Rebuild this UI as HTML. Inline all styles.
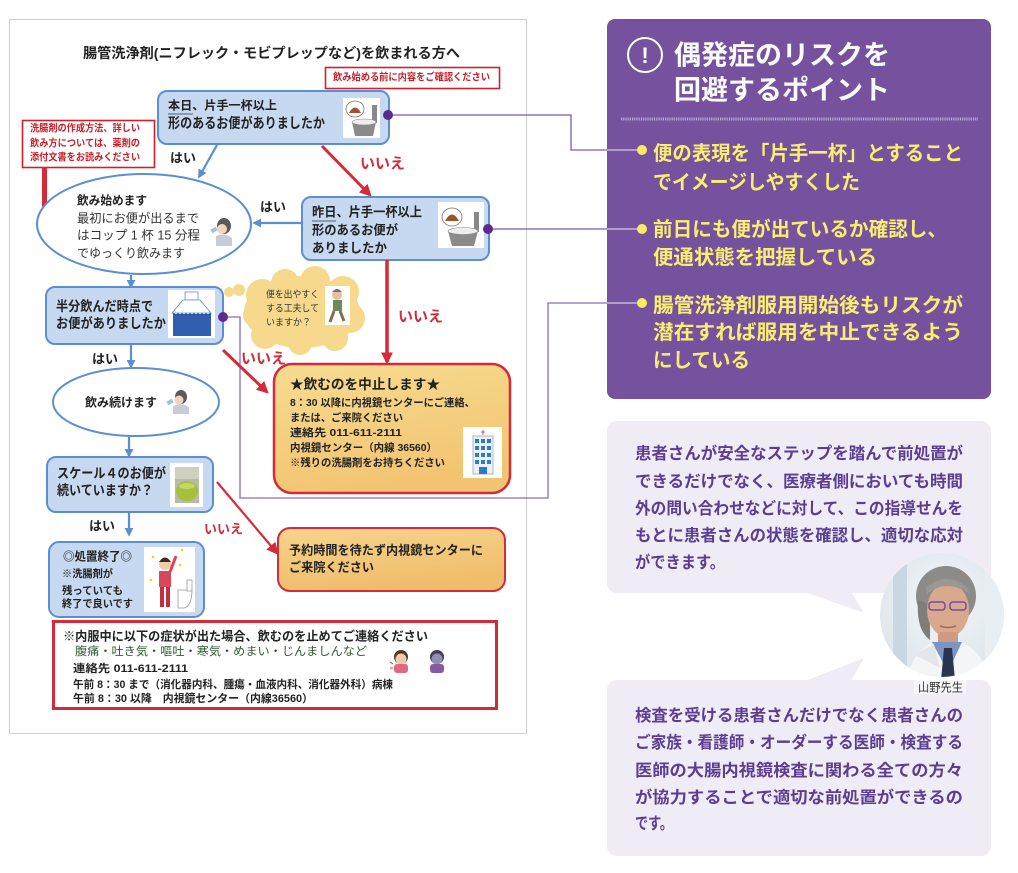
<!DOCTYPE html>
<html><head><meta charset="utf-8"><style>
html,body{margin:0;padding:0;background:#fff;}
svg{display:block;}
text{font-family:"Liberation Sans","Noto Sans CJK JP",sans-serif;}
</style></head><body>
<svg width="1018" height="873" viewBox="0 0 1018 873" xmlns="http://www.w3.org/2000/svg">
<defs>
<marker id="ab" viewBox="0 0 10 10" refX="8" refY="5" markerWidth="9" markerHeight="9" markerUnits="userSpaceOnUse" orient="auto"><path d="M0,0 L10,5 L0,10 z" fill="#5b8fd1"/></marker>
<marker id="ar" viewBox="0 0 10 10" refX="8" refY="5" markerWidth="12" markerHeight="12" markerUnits="userSpaceOnUse" orient="auto"><path d="M0,0 L10,5 L0,10 z" fill="#d42a3a"/></marker>
<linearGradient id="og" x1="0" y1="0" x2="0.3" y2="1"><stop offset="0" stop-color="#f7dc90"/><stop offset="1" stop-color="#f2c472"/></linearGradient>
<linearGradient id="og2" x1="0" y1="0" x2="0.3" y2="1"><stop offset="0" stop-color="#f6d58c"/><stop offset="1" stop-color="#f0bd6a"/></linearGradient>
<radialGradient id="pbg" cx="0.5" cy="0.4" r="0.6"><stop offset="0" stop-color="#f2f5f7"/><stop offset="1" stop-color="#dde6ec"/></radialGradient>
<clipPath id="pc"><circle cx="942" cy="615" r="62"/></clipPath>
</defs>

<!-- document frame -->
<rect x="9.5" y="19.5" width="517" height="714" fill="#fff" stroke="#cfcfcf" stroke-width="1"/>

<!-- connectors -->
<g fill="none" stroke-width="1.3">
<path d="M388 115 H571 V150 H608" stroke="#7a5aab"/>
<path d="M488 229 H608" stroke="#7a5aab"/>
<path d="M223 317 H240 V498 H548 V303 H608" stroke="#8a6cb8"/>
</g>

<!-- title -->
<text x="83" y="58" font-size="14" font-weight="bold" fill="#222" textLength="377" lengthAdjust="spacingAndGlyphs">腸管洗浄剤(ニフレック・モビプレップなど)を飲まれる方へ</text>

<!-- red note top -->
<rect x="325.5" y="67.5" width="174" height="21" fill="#fff" stroke="#d0202a" stroke-width="1.6"/>
<text x="333" y="80.6" font-size="10" font-weight="bold" fill="#c8202a" textLength="157" lengthAdjust="spacingAndGlyphs">飲み始める前に内容をご確認ください</text>

<!-- box1 -->
<rect x="158" y="91" width="231" height="53" rx="9" fill="#c6d9f0" stroke="#5b8fd1" stroke-width="2"/>
<text x="168" y="109.3" font-size="12" font-weight="bold" fill="#222" textLength="109" lengthAdjust="spacingAndGlyphs">本日、片手一杯以上</text>
<line x1="168" y1="114" x2="193" y2="114" stroke="#333" stroke-width="0.8"/>
<text x="168" y="128" font-size="14" font-weight="bold" fill="#222" textLength="157" lengthAdjust="spacingAndGlyphs">形のあるお便がありましたか</text>
<g>
<rect x="343" y="98" width="37" height="40" fill="#fff"/>
<ellipse cx="355" cy="109" rx="9" ry="8" fill="#fff" stroke="#777" stroke-width="0.8"/>
<path d="M349 113 Q355 102 361 113 Z" fill="#a0522d"/>
<rect x="372" y="105" width="5" height="18" fill="#888"/>
<path d="M352 122 H376 L373 136 H355 Z" fill="#8a8a8a"/>
<ellipse cx="364" cy="122" rx="12" ry="3" fill="#eee" stroke="#888" stroke-width="0.6"/>
</g>

<!-- red left note -->
<rect x="22.5" y="120.5" width="132" height="47" fill="#fff" stroke="#d0202a" stroke-width="1.6"/>
<text x="30" y="131.6" font-size="10" font-weight="bold" fill="#c8202a" textLength="110" lengthAdjust="spacingAndGlyphs">洗腸剤の作成方法、詳しい</text>
<text x="30" y="146.6" font-size="10" font-weight="bold" fill="#c8202a" textLength="110" lengthAdjust="spacingAndGlyphs">飲み方については、薬剤の</text>
<text x="30" y="160.6" font-size="10" font-weight="bold" fill="#c8202a" textLength="110" lengthAdjust="spacingAndGlyphs">添付文書をお読みください</text>
<path d="M44.5 167 V204 H56" fill="none" stroke="#d42a3a" stroke-width="5"/>
<path d="M55 197 L63 204 L55 211 Z" fill="#d42a3a"/>

<!-- arrows top -->
<line x1="217" y1="145" x2="199" y2="177" stroke="#5b8fd1" stroke-width="2.2" marker-end="url(#ab)"/>
<text x="170" y="162.7" font-size="13" font-weight="bold" fill="#222">はい</text>
<line x1="322" y1="146" x2="370" y2="195" stroke="#d42a3a" stroke-width="3" marker-end="url(#ar)"/>
<text x="360" y="168.4" font-size="15" font-weight="bold" fill="#d42a3a">いいえ</text>

<!-- ellipse 1 -->
<ellipse cx="144" cy="224" rx="107" ry="50" fill="#fff" stroke="#5b8fd1" stroke-width="2"/>
<text x="77" y="204.3" font-size="12" font-weight="bold" fill="#222" textLength="70" lengthAdjust="spacingAndGlyphs">飲み始めます</text>
<text x="77" y="222.5" font-size="12.5" fill="#333" textLength="122" lengthAdjust="spacingAndGlyphs">最初にお便が出るまで</text>
<text x="77" y="239.5" font-size="12.5" fill="#333" textLength="123" lengthAdjust="spacingAndGlyphs">はコップ 1 杯 15 分程</text>
<text x="77" y="257.5" font-size="12.5" fill="#333" textLength="108" lengthAdjust="spacingAndGlyphs">でゆっくり飲みます</text>
<g>
<ellipse cx="224" cy="226" rx="7" ry="8" fill="#5a5a5a"/>
<circle cx="222" cy="229" r="5" fill="#f3d3bb"/>
<path d="M216 236 Q224 232 232 238 L232 246 H216 Z" fill="#c8ccd8"/>
<rect x="211" y="228" width="6" height="4" fill="#9cc2e0" transform="rotate(-30 214 230)"/>
</g>

<!-- box2 -->
<rect x="302" y="197" width="187" height="63" rx="9" fill="#c6d9f0" stroke="#5b8fd1" stroke-width="2"/>
<text x="312" y="216.7" font-size="13" font-weight="bold" fill="#222" textLength="110" lengthAdjust="spacingAndGlyphs">昨日、片手一杯以上</text>
<line x1="312" y1="221" x2="336" y2="221" stroke="#333" stroke-width="0.8"/>
<text x="312" y="234.7" font-size="13" font-weight="bold" fill="#222" textLength="86" lengthAdjust="spacingAndGlyphs">形のあるお便が</text>
<text x="312" y="252.7" font-size="13" font-weight="bold" fill="#222" textLength="75" lengthAdjust="spacingAndGlyphs">ありましたか</text>
<g>
<rect x="438" y="202" width="46" height="46" fill="#fff"/>
<ellipse cx="452" cy="217" rx="10" ry="9" fill="#fff" stroke="#777" stroke-width="0.8"/>
<path d="M445 221 Q452 208 459 221 Z" fill="#a0522d"/>
<rect x="474" y="212" width="5" height="20" fill="#888"/>
<path d="M448 231 H478 L474 246 H452 Z" fill="#8a8a8a"/>
<ellipse cx="463" cy="231" rx="15" ry="3.5" fill="#eee" stroke="#888" stroke-width="0.6"/>
</g>
<line x1="302" y1="223" x2="254" y2="223" stroke="#5b8fd1" stroke-width="2.2" marker-end="url(#ab)"/>
<text x="260" y="211.7" font-size="13" font-weight="bold" fill="#222">はい</text>

<line x1="131" y1="275" x2="131" y2="287" stroke="#5b8fd1" stroke-width="2.2" marker-end="url(#ab)"/>

<!-- box3 -->
<rect x="46" y="287" width="177" height="57" rx="9" fill="#c6d9f0" stroke="#5b8fd1" stroke-width="2"/>
<text x="56" y="310.9" font-size="13.5" font-weight="bold" fill="#222" textLength="97" lengthAdjust="spacingAndGlyphs">半分飲んだ時点で</text>
<text x="56" y="327.9" font-size="13.5" font-weight="bold" fill="#222" textLength="110" lengthAdjust="spacingAndGlyphs">お便がありましたか</text>
<g>
<rect x="168" y="290" width="47" height="48" fill="#fff"/>
<rect x="185" y="292" width="13" height="8" fill="none" stroke="#6b8cc8" stroke-width="0.8"/>
<path d="M183 300 H200 L211 313 H172 Z" fill="#fff" stroke="#6b8cc8" stroke-width="0.8"/>
<rect x="173" y="314" width="38" height="22" fill="#2f5fae"/>
<line x1="173" y1="314" x2="211" y2="314" stroke="#1d3f80" stroke-width="1" stroke-dasharray="2 2"/>
</g>

<!-- cloud -->
<g fill="#f6d98c">
<circle cx="229" cy="292" r="5"/><circle cx="239" cy="290" r="6"/>
<ellipse cx="302" cy="312" rx="58" ry="36"/>
<circle cx="262" cy="295" r="16"/><circle cx="285" cy="283" r="14"/><circle cx="315" cy="281" r="15"/>
<circle cx="343" cy="292" r="16"/><circle cx="350" cy="318" r="15"/><circle cx="335" cy="338" r="13"/>
<circle cx="300" cy="343" r="12"/><circle cx="265" cy="335" r="14"/><circle cx="255" cy="315" r="12"/>
</g>
<text x="266" y="297.4" font-size="9.5" fill="#333" textLength="53" lengthAdjust="spacingAndGlyphs">便を出やすく</text>
<text x="266" y="311.4" font-size="9.5" fill="#333" textLength="53" lengthAdjust="spacingAndGlyphs">する工夫して</text>
<text x="266" y="325.4" font-size="9.5" fill="#333" textLength="45" lengthAdjust="spacingAndGlyphs">いますか？</text>
<g>
<rect x="325" y="286" width="25" height="39" fill="#fff"/>
<circle cx="337" cy="295" r="5" fill="#e8c0a0"/>
<path d="M332 292 Q337 286 342 292" fill="#777"/>
<rect x="333" y="300" width="9" height="11" fill="#6d8a55"/>
<path d="M334 311 L330 322 M340 311 L344 321" stroke="#8a6a4a" stroke-width="3"/>
</g>

<text x="92" y="363.7" font-size="13" font-weight="bold" fill="#222">はい</text>
<line x1="131" y1="344" x2="131" y2="367" stroke="#5b8fd1" stroke-width="2.2" marker-end="url(#ab)"/>
<text x="241" y="363.4" font-size="15" font-weight="bold" fill="#d42a3a">いいえ</text>
<line x1="223" y1="350" x2="267" y2="392" stroke="#d42a3a" stroke-width="3" marker-end="url(#ar)"/>
<line x1="387" y1="260" x2="387" y2="362" stroke="#d42a3a" stroke-width="3.5" marker-end="url(#ar)"/>
<text x="398" y="321.4" font-size="15" font-weight="bold" fill="#d42a3a">いいえ</text>

<!-- box4 -->
<rect x="274" y="364" width="236" height="129" rx="18" fill="url(#og)" stroke="#d42a3a" stroke-width="2.5"/>
<text x="290" y="388.9" font-size="13.5" font-weight="bold" fill="#222" textLength="150" lengthAdjust="spacingAndGlyphs">★飲むのを中止します★</text>
<text x="290" y="405.8" font-size="10.5" font-weight="bold" fill="#222" textLength="185" lengthAdjust="spacingAndGlyphs">8：30 以降に内視鏡センターにご連絡、</text>
<text x="290" y="420.8" font-size="10.5" font-weight="bold" fill="#222" textLength="113" lengthAdjust="spacingAndGlyphs">または、ご来院ください</text>
<text x="290" y="435.8" font-size="10.5" font-weight="bold" fill="#222" textLength="112" lengthAdjust="spacingAndGlyphs">連絡先 011-611-2111</text>
<text x="290" y="450.8" font-size="10.5" font-weight="bold" fill="#222" textLength="147" lengthAdjust="spacingAndGlyphs">内視鏡センター（内線 36560）</text>
<text x="290" y="465.8" font-size="10.5" font-weight="bold" fill="#222" textLength="155" lengthAdjust="spacingAndGlyphs">※残りの洗腸剤をお持ちください</text>
<g>
<rect x="463" y="427" width="39" height="51" fill="#fff"/>
<rect x="473" y="436" width="20" height="38" fill="#eef2f8" stroke="#9aa8bb" stroke-width="0.8"/>
<path d="M483 430 V435 M481 432 H485" stroke="#a04060" stroke-width="0.8"/>
<g fill="#2b7cc8">
<rect x="475" y="439" width="4" height="4"/><rect x="481" y="439" width="4" height="4"/><rect x="487" y="439" width="4" height="4"/>
<rect x="475" y="446" width="4" height="4"/><rect x="481" y="446" width="4" height="4"/><rect x="487" y="446" width="4" height="4"/>
<rect x="475" y="453" width="4" height="4"/><rect x="481" y="453" width="4" height="4"/><rect x="487" y="453" width="4" height="4"/>
<rect x="475" y="460" width="4" height="4"/><rect x="481" y="460" width="4" height="4"/><rect x="487" y="460" width="4" height="4"/>
<rect x="479" y="467" width="8" height="7"/>
</g>
</g>

<!-- ellipse 2 -->
<ellipse cx="136" cy="402" rx="83" ry="34" fill="#fff" stroke="#5b8fd1" stroke-width="2"/>
<text x="85" y="406.3" font-size="12" font-weight="bold" fill="#222" textLength="72" lengthAdjust="spacingAndGlyphs">飲み続けます</text>
<g>
<ellipse cx="181" cy="397" rx="6" ry="7" fill="#5a5a5a"/>
<circle cx="179" cy="400" r="4.5" fill="#f3d3bb"/>
<path d="M173 406 Q181 402 189 407 L189 414 H173 Z" fill="#c8ccd8"/>
<rect x="167" y="400" width="6" height="4" fill="#9cc2e0" transform="rotate(-30 170 402)"/>
</g>

<line x1="129" y1="437" x2="129" y2="456" stroke="#5b8fd1" stroke-width="2.2" marker-end="url(#ab)"/>

<!-- box5 -->
<rect x="47" y="457" width="166" height="55" rx="9" fill="#c6d9f0" stroke="#5b8fd1" stroke-width="2"/>
<text x="57" y="477.9" font-size="13.5" font-weight="bold" fill="#222" textLength="109" lengthAdjust="spacingAndGlyphs">スケール４のお便が</text>
<text x="57" y="494.9" font-size="13.5" font-weight="bold" fill="#222" textLength="96" lengthAdjust="spacingAndGlyphs">続いていますか？</text>
<g>
<rect x="170" y="463" width="33" height="44" fill="#fff"/>
<rect x="175" y="467" width="24" height="36" fill="#b9baa8"/>
<rect x="175" y="467" width="24" height="12" fill="#d0d0c0"/>
<ellipse cx="187" cy="491" rx="11" ry="10" fill="#a7bf3c"/>
<ellipse cx="187" cy="486" rx="8" ry="3" fill="#c3d66a"/>
</g>

<text x="89" y="530.7" font-size="13" font-weight="bold" fill="#222">はい</text>
<line x1="129" y1="512" x2="129" y2="535" stroke="#5b8fd1" stroke-width="2.2" marker-end="url(#ab)"/>
<text x="204" y="533.7" font-size="13" font-weight="bold" fill="#d42a3a">いいえ</text>
<line x1="217" y1="482" x2="277" y2="553" stroke="#d42a3a" stroke-width="2.2" marker-end="url(#ar)"/>

<!-- box6 -->
<rect x="278" y="528" width="227" height="63" rx="12" fill="url(#og2)" stroke="#d42a3a" stroke-width="2"/>
<text x="289" y="554.5" font-size="12.5" font-weight="bold" fill="#222" textLength="194" lengthAdjust="spacingAndGlyphs">予約時間を待たず内視鏡センターに</text>
<text x="289" y="571.5" font-size="12.5" font-weight="bold" fill="#222" textLength="85" lengthAdjust="spacingAndGlyphs">ご来院ください</text>

<!-- box7 -->
<rect x="49" y="542" width="155" height="75" rx="10" fill="#c6d9f0" stroke="#5b8fd1" stroke-width="2"/>
<text x="63" y="560.3" font-size="12" font-weight="bold" fill="#222" textLength="69" lengthAdjust="spacingAndGlyphs">◎処置終了◎</text>
<text x="62" y="576.8" font-size="10.5" font-weight="bold" fill="#222" textLength="51" lengthAdjust="spacingAndGlyphs">※洗腸剤が</text>
<text x="62" y="593.8" font-size="10.5" font-weight="bold" fill="#222" textLength="61" lengthAdjust="spacingAndGlyphs">残っていても</text>
<text x="62" y="606.8" font-size="10.5" font-weight="bold" fill="#222" textLength="71" lengthAdjust="spacingAndGlyphs">終了で良いです</text>
<g>
<rect x="144" y="547" width="51" height="65" fill="#fff"/>
<circle cx="165" cy="564" r="6" fill="#f1cba8"/>
<path d="M159 562 Q165 553 171 562" fill="#3a2a22"/>
<rect x="159" y="571" width="12" height="16" fill="#d9485a"/>
<rect x="160" y="587" width="4" height="20" fill="#c23040"/><rect x="166" y="587" width="4" height="20" fill="#c23040"/>
<path d="M170 572 L176 556" stroke="#d9485a" stroke-width="3"/>
<path d="M178 590 H192 Q192 606 184 608 H178 Z" fill="#fff" stroke="#999" stroke-width="0.8"/>
<rect x="187" y="580" width="5" height="11" fill="#fff" stroke="#999" stroke-width="0.8"/>
<g fill="#f0d020"><circle cx="153" cy="557" r="1.3"/><circle cx="180" cy="565" r="1.3"/><circle cx="151" cy="580" r="1.3"/><circle cx="182" cy="550" r="1.3"/></g>
</g>

<!-- box8 -->
<rect x="53.5" y="621.5" width="443" height="87" fill="#fff" stroke="#d42a3a" stroke-width="3"/>
<text x="63" y="640.5" font-size="12.5" font-weight="bold" fill="#222" textLength="365" lengthAdjust="spacingAndGlyphs">※内服中に以下の症状が出た場合、飲むのを止めてご連絡ください</text>
<text x="75" y="655.1" font-size="11.5" fill="#2e5a34" textLength="292" lengthAdjust="spacingAndGlyphs">腹痛・吐き気・嘔吐・寒気・めまい・じんましんなど</text>
<text x="73" y="672" font-size="11" font-weight="bold" fill="#222" textLength="115" lengthAdjust="spacingAndGlyphs">連絡先 011-611-2111</text>
<text x="73" y="688" font-size="11" font-weight="bold" fill="#222" textLength="320" lengthAdjust="spacingAndGlyphs">午前 8：30 まで（消化器内科、腫瘍・血液内科、消化器外科）病棟</text>
<text x="73" y="702" font-size="11" font-weight="bold" fill="#222" textLength="240" lengthAdjust="spacingAndGlyphs">午前 8：30 以降　内視鏡センター（内線36560）</text>
<g>
<circle cx="401" cy="657" r="7" fill="#4a3a30"/>
<circle cx="401" cy="659" r="5.5" fill="#f1cba8"/>
<rect x="394" y="664" width="14" height="9" rx="3" fill="#e06a80"/>
<path d="M390 662 L393 664 M390 668 H393" stroke="#e03040" stroke-width="1"/>
<circle cx="437" cy="657" r="7" fill="#4a3a50"/>
<circle cx="437" cy="659" r="5.5" fill="#8a90b8"/>
<rect x="430" y="664" width="14" height="9" rx="3" fill="#8a5aa0"/>
</g>

<!-- ===== right side ===== -->
<rect x="607" y="19" width="384" height="380" rx="8" fill="#76529e"/>
<circle cx="645" cy="55" r="17" fill="none" stroke="#fff" stroke-width="2"/>
<text x="645" y="63" font-size="22" font-weight="bold" fill="#fff" text-anchor="middle">!</text>
<text x="674" y="64.7" font-size="27" font-weight="bold" fill="#fbfbfb" textLength="216" lengthAdjust="spacingAndGlyphs">偶発症のリスクを</text>
<text x="674" y="99.7" font-size="27" font-weight="bold" fill="#fbfbfb" textLength="216" lengthAdjust="spacingAndGlyphs">回避するポイント</text>
<line x1="621" y1="119" x2="978" y2="119" stroke="#b9a6d3" stroke-width="3" stroke-dasharray="1.2 1"/>

<g fill="none" stroke="#d6c8e6" stroke-width="1.3">
<path d="M607 150 H640"/><path d="M607 229 H640"/><path d="M607 303 H640"/>
</g>
<g fill="#f7ec62">
<circle cx="642" cy="150" r="5"/><circle cx="642" cy="229" r="5"/><circle cx="642" cy="303" r="5"/>
</g>
<g font-size="20" font-weight="bold" fill="#f8ee72">
<text x="653" y="160.2" textLength="310" lengthAdjust="spacingAndGlyphs">便の表現を「片手一杯」とすること</text>
<text x="653" y="189.2" textLength="207" lengthAdjust="spacingAndGlyphs">でイメージしやすくした</text>
<text x="653" y="236.2" textLength="294" lengthAdjust="spacingAndGlyphs">前日にも便が出ているか確認し、</text>
<text x="653" y="264.2" textLength="224" lengthAdjust="spacingAndGlyphs">便通状態を把握している</text>
<text x="653" y="312.2" textLength="310" lengthAdjust="spacingAndGlyphs">腸管洗浄剤服用開始後もリスクが</text>
<text x="653" y="339.2" textLength="310" lengthAdjust="spacingAndGlyphs">潜在すれば服用を中止できるよう</text>
<text x="653" y="367.2" textLength="97" lengthAdjust="spacingAndGlyphs">にしている</text>
</g>

<!-- bubble 1 -->
<rect x="607" y="421" width="384" height="172" rx="10" fill="#efecf5"/>
<path d="M805 592 L851 592 L864 613 Z" fill="#efecf5"/>
<g font-size="16.5" font-weight="bold" fill="#5b3e92">
<text x="635" y="458.9" textLength="328" lengthAdjust="spacingAndGlyphs">患者さんが安全なステップを踏んで前処置が</text>
<text x="635" y="486.9" textLength="328" lengthAdjust="spacingAndGlyphs">できるだけでなく、医療者側においても時間</text>
<text x="635" y="513.9" textLength="328" lengthAdjust="spacingAndGlyphs">外の問い合わせなどに対して、この指導せんを</text>
<text x="635" y="540.9" textLength="328" lengthAdjust="spacingAndGlyphs">もとに患者さんの状態を確認し、適切な応対</text>
<text x="635" y="567.9" textLength="90" lengthAdjust="spacingAndGlyphs">ができます。</text>
</g>

<!-- bubble 2 -->
<rect x="607" y="680" width="384" height="176" rx="10" fill="#efecf5"/>
<path d="M805 681 L851 681 L864 658 Z" fill="#efecf5"/>
<g font-size="16.5" font-weight="bold" fill="#5b3e92">
<text x="635" y="720.9" textLength="328" lengthAdjust="spacingAndGlyphs">検査を受ける患者さんだけでなく患者さんの</text>
<text x="635" y="747.9" textLength="328" lengthAdjust="spacingAndGlyphs">ご家族・看護師・オーダーする医師・検査する</text>
<text x="635" y="775.9" textLength="328" lengthAdjust="spacingAndGlyphs">医師の大腸内視鏡検査に関わる全ての方々</text>
<text x="635" y="802.9" textLength="328" lengthAdjust="spacingAndGlyphs">が協力することで適切な前処置ができるの</text>
<text x="635" y="828.9" textLength="38" lengthAdjust="spacingAndGlyphs">です。</text>
</g>

<!-- photo -->
<g clip-path="url(#pc)">
<rect x="878" y="551" width="130" height="130" fill="url(#pbg)"/>
<rect x="893" y="551" width="14" height="130" fill="#c9d7e3"/>
<rect x="985" y="551" width="20" height="130" fill="#e9eef2"/>
<path d="M905 690 Q910 650 935 642 L960 642 Q985 650 992 690 Z" fill="#f4f5f7"/>
<path d="M932 642 L948 672 L962 642 Z" fill="#7d95c2"/>
<path d="M944 648 L952 648 L955 680 L941 680 Z" fill="#2b3450"/>
<path d="M915 655 Q925 648 934 644 L940 668 Z" fill="#e4e6ea"/>
<ellipse cx="946" cy="596" rx="30" ry="30" fill="#8d8b88"/>
<path d="M918 600 Q916 630 930 640 L930 605 Z" fill="#7f7d7a"/>
<ellipse cx="948" cy="610" rx="21" ry="27" fill="#d8a98c"/>
<path d="M927 594 Q946 578 970 594 L968 588 Q946 570 926 588 Z" fill="#9a9895"/>
<rect x="929" y="602" width="16" height="8" rx="3" fill="none" stroke="#7a4aa0" stroke-width="1.5"/>
<rect x="950" y="602" width="16" height="8" rx="3" fill="none" stroke="#7a4aa0" stroke-width="1.5"/>
<path d="M940 626 Q948 629 956 626" stroke="#a06a5a" stroke-width="1.5" fill="none"/>
<rect x="938" y="632" width="20" height="10" fill="#cf9b80"/>
</g>
<rect x="914" y="680" width="52" height="14" fill="#f6f5f9"/>
<text x="918" y="691.3" font-size="12" fill="#333" textLength="45" lengthAdjust="spacingAndGlyphs">山野先生</text>

<!-- purple dots on top -->
<circle cx="388" cy="115" r="5" fill="#5b2a8e"/>
<circle cx="488" cy="229" r="5" fill="#5b2a8e"/>
<circle cx="223" cy="317" r="5" fill="#5b2a8e"/>
</svg>
</body></html>
